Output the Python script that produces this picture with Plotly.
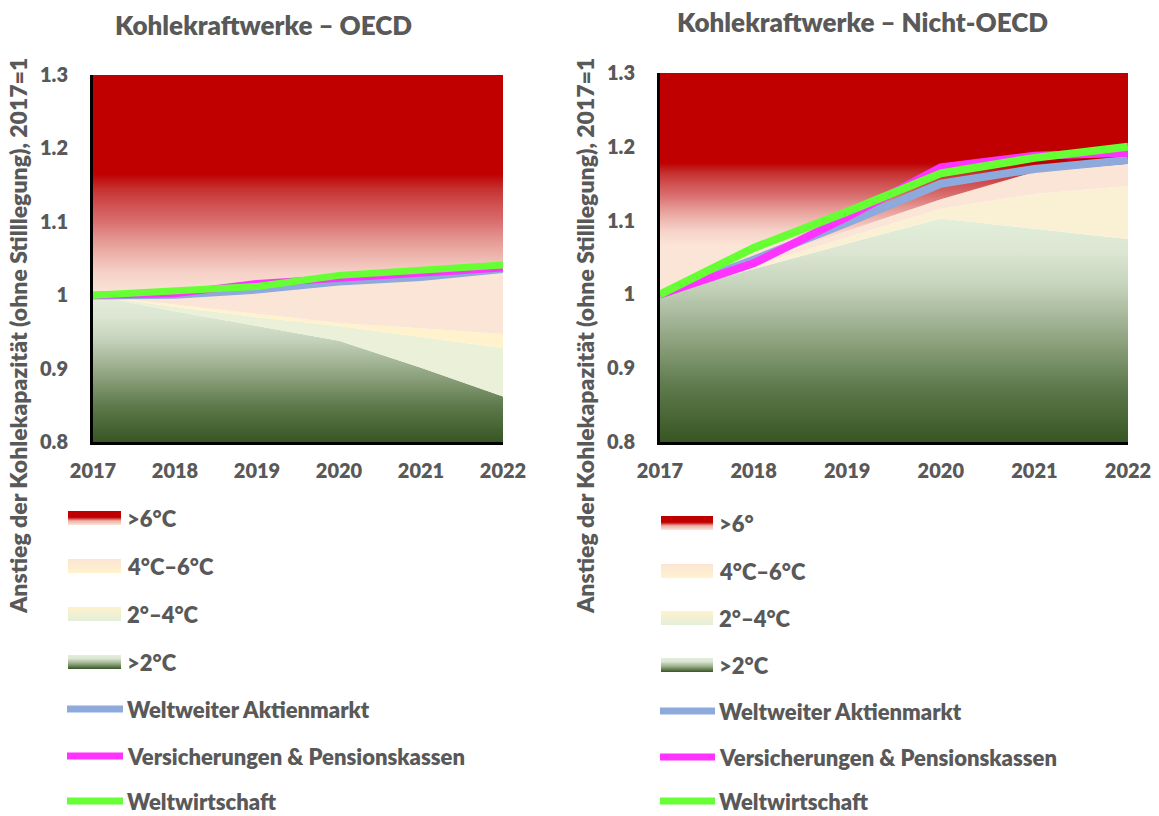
import plotly.graph_objects as go

# ---------------- data ----------------
years = [2017, 2018, 2019, 2020, 2021, 2022]
y_tickvals = [0.8, 0.9, 1.0, 1.1, 1.2, 1.3]
y_ticktext = ["0.8", "0.9", "1", "1.1", "1.2", "1.3"]
y_min, y_max = 0.8, 1.3

# OECD: upper edges of the temperature bands
oecd_unter_2 = [1.000, 0.978, 0.958, 0.938, 0.901, 0.862]      # >2°C (green)
oecd_2_4_unten = [1.000, 0.984, 0.970, 0.958, 0.943, 0.928]    # 2°–4°C lower part
oecd_2_4 = [1.000, 0.987, 0.974, 0.962, 0.955, 0.947]          # 2°–4°C upper part
oecd_4_6 = [1.000, 1.001, 1.006, 1.017, 1.023, 1.034]          # 4°C–6°C
# OECD portfolios
oecd_aktien = [0.999, 1.000, 1.007, 1.018, 1.024, 1.035]
oecd_versicherung = [1.000, 1.002, 1.016, 1.023, 1.029, 1.037]
oecd_weltwirtschaft = [1.000, 1.005, 1.012, 1.027, 1.033, 1.041]

# Nicht-OECD: upper edges of the temperature bands
non_unter_2 = [1.000, 1.035, 1.069, 1.103, 1.089, 1.075]
non_2_4 = [1.000, 1.039, 1.078, 1.116, 1.136, 1.147]
non_4_6 = [1.000, 1.043, 1.086, 1.129, 1.166, 1.177]
# Nicht-OECD portfolios
non_aktien = [1.000, 1.047, 1.097, 1.150, 1.170, 1.182]
non_versicherung = [1.000, 1.042, 1.105, 1.172, 1.188, 1.192]
non_weltwirtschaft = [1.000, 1.063, 1.112, 1.164, 1.185, 1.200]

titles = ["Kohlekraftwerke – OECD", "Kohlekraftwerke – Nicht-OECD"]
y_title = "Anstieg der Kohlekapazität (ohne Stilllegung), 2017=1"
legend_oecd = [">6°C", "4°C–6°C", "2°–4°C", ">2°C",
               "Weltweiter Aktienmarkt", "Versicherungen & Pensionskassen", "Weltwirtschaft"]
legend_non = [">6°", "4°C–6°C", "2°–4°C", ">2°C",
              "Weltweiter Aktienmarkt", "Versicherungen & Pensionskassen", "Weltwirtschaft"]

# ---------------- styles ----------------
W, H = 1159, 816
FONT = "Lato"
WEIGHT = 800
GREY = "#595959"
C_BLUE = "#8EA9DB"
C_MAG = "#FF33FF"
C_GREEN = "#66FF33"
C_PINK = "#FBE5D6"
C_YELLOW = "#FFF2CC"
C_CREAM = "#EBF0D9"
C_CREAM_R = "#FAF1D4"

GREEN_CS = [[0, "#375623"], [0.25, "#5F7A4D"], [0.47, "#92A683"],
            [0.7, "#C5D3BC"], [0.85, "#DCE6D2"], [1, "#E2EFDA"]]
RED_CS = [[0, "#FBE5D6"], [0.18, "#F6D2C8"], [0.33, "#EDB4AC"], [0.47, "#E49490"],
          [0.6, "#DA7070"], [0.75, "#D05050"], [0.88, "#C53030"], [1, "#C00000"]]

fig = go.Figure()


def edge(xa, ya, y, fill=None, fillcolor=None, grad=None):
    kw = dict(x=years, y=y, mode="lines", line=dict(width=0), xaxis=xa, yaxis=ya,
              hoverinfo="skip", showlegend=False)
    if fill:
        kw["fill"] = fill
    if fillcolor:
        kw["fillcolor"] = fillcolor
    if grad:
        kw["fillgradient"] = grad
    fig.add_trace(go.Scatter(**kw))


def lines(xa, ya, series, width):
    for ys, col in series:
        fig.add_trace(go.Scatter(x=years, y=ys, mode="lines", xaxis=xa, yaxis=ya,
                                 line=dict(color=col, width=width), hoverinfo="skip",
                                 showlegend=False))


# ----- left panel (OECD)
edge("x", "y", [y_min] * len(years))
edge("x", "y", oecd_unter_2, "tonexty",
     grad=dict(type="vertical", colorscale=GREEN_CS, start=y_min, stop=max(oecd_unter_2)))
edge("x", "y", oecd_2_4_unten, "tonexty", fillcolor=C_CREAM)
edge("x", "y", oecd_2_4, "tonexty", fillcolor=C_YELLOW)
edge("x", "y", oecd_4_6, "tonexty", fillcolor=C_PINK)
edge("x", "y", [y_max] * len(years), "tonexty",
     grad=dict(type="vertical", colorscale=RED_CS, start=1.0, stop=1.165))
lines("x", "y", [(oecd_aktien, C_BLUE), (oecd_versicherung, C_MAG),
                 (oecd_weltwirtschaft, C_GREEN)], 7)

# ----- right panel (Nicht-OECD)
edge("x2", "y2", [y_min] * len(years))
edge("x2", "y2", non_unter_2, "tonexty",
     grad=dict(type="vertical", colorscale=GREEN_CS, start=y_min, stop=max(non_unter_2)))
edge("x2", "y2", non_2_4, "tonexty", fillcolor=C_CREAM_R)
edge("x2", "y2", non_4_6, "tonexty", fillcolor=C_PINK)
edge("x2", "y2", [y_max] * len(years), "tonexty",
     grad=dict(type="vertical", colorscale=RED_CS, start=1.066, stop=1.178))
lines("x2", "y2", [(non_aktien, C_BLUE), (non_versicherung, C_MAG),
                   (non_weltwirtschaft, C_GREEN)], 8)

# ----- custom legends on a full-figure pixel overlay (y measured from the top)
SWATCH_CS = [
    [[0, C_PINK], [0.3, "#ECB0A8"], [0.55, "#C00000"], [1, "#C00000"]],
    [[0, C_YELLOW], [1, C_PINK]],
    [[0, "#E2EFDA"], [1, C_YELLOW]],
    [[0, "#375623"], [0.4, "#9BAE8C"], [0.75, "#DCE6D2"], [1, "#E2EFDA"]],
]
LINE_COLS = [C_BLUE, C_MAG, C_GREEN]


def py(p):
    """pixel row (from top) -> overlay y value (from bottom)"""
    return H - p


def legend(x0, x1, rows, labels):
    for i, (yc, lab) in enumerate(zip(rows, labels)):
        if i < 4:
            lo, hi = py(yc + 7), py(yc - 7)
            fig.add_trace(go.Scatter(
                x=[x0, x1, x1, x0, x0], y=[lo, lo, hi, hi, lo],
                mode="lines", line=dict(width=0), fill="toself",
                fillgradient=dict(type="vertical", colorscale=SWATCH_CS[i],
                                  start=lo, stop=hi),
                xaxis="x3", yaxis="y3", hoverinfo="skip", showlegend=False))
        else:
            fig.add_trace(go.Scatter(
                x=[x0 - 1, x1 + 2], y=[py(yc), py(yc)], mode="lines",
                line=dict(color=LINE_COLS[i - 4], width=7),
                xaxis="x3", yaxis="y3", hoverinfo="skip", showlegend=False))
        fig.add_annotation(x=x1 + 4, y=py(yc), xref="x3", yref="y3", text=lab,
                           showarrow=False, xanchor="left", yanchor="middle",
                           font=dict(family=FONT, size=22, color=GREY, weight=WEIGHT))


legend(68, 121, [518, 566, 614, 662, 709, 756, 801], legend_oecd)
legend(661, 713, [523, 571, 618, 665, 711, 757, 801], legend_non)

# titles
fig.add_annotation(x=263, y=py(25), xref="x3", yref="y3", text=titles[0], showarrow=False,
                   font=dict(family=FONT, size=26, color=GREY, weight=WEIGHT))
fig.add_annotation(x=862, y=py(22), xref="x3", yref="y3", text=titles[1], showarrow=False,
                   font=dict(family=FONT, size=26, color=GREY, weight=WEIGHT))
for xp in (18, 585):
    fig.add_annotation(x=xp, y=py(336), xref="x3", yref="y3", text=y_title, showarrow=False,
                       textangle=-90,
                       font=dict(family=FONT, size=23, color=GREY, weight=WEIGHT))

tickfont = dict(family=FONT, size=20, color=GREY, weight=WEIGHT)
xcommon = dict(range=[years[0], years[-1]], tickvals=years, showgrid=False, zeroline=False,
               showline=True, linecolor="black", linewidth=3, ticks="",
               tickfont=tickfont, ticklabelstandoff=9, fixedrange=True, automargin=False)
ycommon = dict(range=[y_min, y_max], tickvals=y_tickvals, ticktext=y_ticktext,
               showgrid=False, zeroline=False, showline=True, linecolor="black",
               linewidth=3, ticks="", tickfont=tickfont, ticklabelstandoff=18,
               fixedrange=True, automargin=False)

fig.update_layout(
    width=W, height=H, margin=dict(l=0, r=0, t=0, b=0, pad=0, autoexpand=False),
    paper_bgcolor="white", plot_bgcolor="rgba(0,0,0,0)", showlegend=False,
    xaxis=dict(domain=[93 / W, 503 / W], anchor="y", **xcommon),
    yaxis=dict(domain=[1 - 442 / H, 1 - 75 / H], anchor="x", **ycommon),
    xaxis2=dict(domain=[660 / W, 1128 / W], anchor="y2", **xcommon),
    yaxis2=dict(domain=[1 - 442 / H, 1 - 73 / H], anchor="x2", **ycommon),
    xaxis3=dict(domain=[0, 1], range=[0, W], visible=False, anchor="y3",
                fixedrange=True, automargin=False),
    yaxis3=dict(domain=[0, 1], range=[0, H], visible=False, anchor="x3",
                fixedrange=True, automargin=False),
)

fig.write_html("out.html", config={"displayModeBar": False},
               post_script="document.body.style.margin='0';")
